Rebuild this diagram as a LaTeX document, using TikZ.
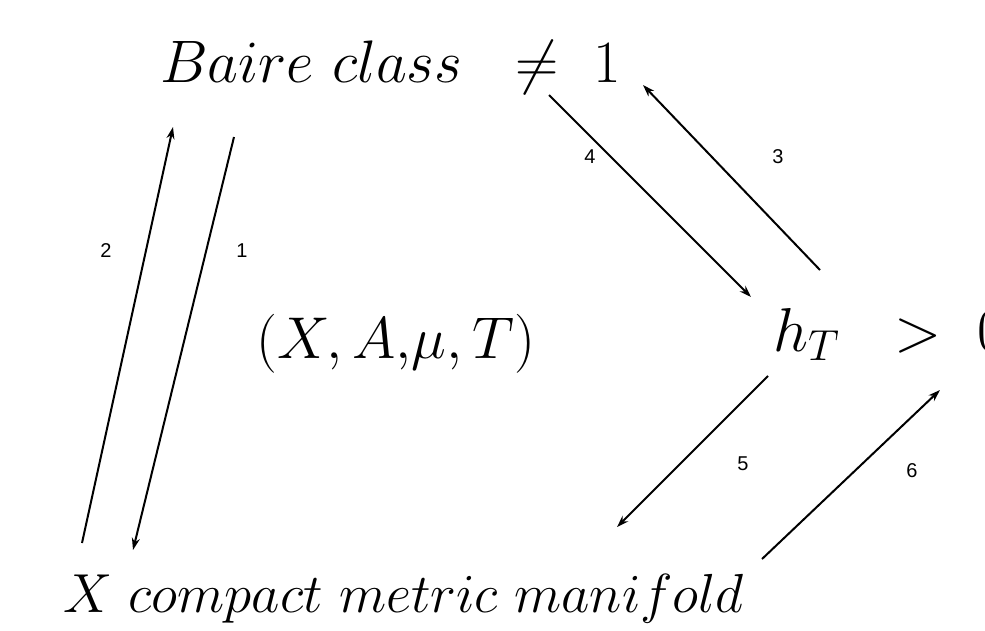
\RequirePackage{fix-cm}
\documentclass[tikz,border=0pt]{standalone}
\usepackage{fontspec}
\newfontfamily\labelfont{Liberation Sans}
\usetikzlibrary{arrows.meta}
\begin{document}
\begin{tikzpicture}[x=1pt,y=-1pt,
  bigtext/.style={inner sep=0pt,anchor=base west,font=\fontsize{55}{60}\selectfont},
  numlabel/.style={inner sep=0pt,font=\labelfont\fontsize{20}{24}\selectfont},
  conn/.style={line width=2pt,-{Stealth[length=12pt,width=8pt]}}]
\useasboundingbox (0,0) rectangle (985,630);
% main texts
\node[bigtext,font=\fontsize{60}{66}\selectfont] (baire) at (160,82) {$Baire\ class\ \ \neq\ 1$};
\node[bigtext,font=\fontsize{59}{64}\selectfont] (space) at (256,358) {$(X, A{,}\mu, T)$};
\node[bigtext,font=\fontsize{62}{68}\selectfont] (entropy) at (773,351) {$h_T\ \ >\ 0$};
\node[bigtext] (manifold) at (63,612) {$X\ compact\ metric\ manifold$};
% arrow end points
\coordinate (a1s) at (234,137); \coordinate (a1e) at (133,550);
\coordinate (a2s) at (82,543);  \coordinate (a2e) at (173,127);
\coordinate (a3s) at (820,270); \coordinate (a3e) at (643,85);
\coordinate (a4s) at (549,95);  \coordinate (a4e) at (751,297);
\coordinate (a5s) at (768,376); \coordinate (a5e) at (617,527);
\coordinate (a6s) at (762,559); \coordinate (a6e) at (940,390);
\draw[conn] (a1s) -- (a1e);
\draw[conn] (a2s) -- (a2e);
\draw[conn] (a3s) -- (a3e);
\draw[conn] (a4s) -- (a4e);
\draw[conn] (a5s) -- (a5e);
\draw[conn] (a6s) -- (a6e);
% labels
\node[numlabel] (l1) at (242,251) {1};
\node[numlabel] (l2) at (106,251) {2};
\node[numlabel] (l3) at (778,157) {3};
\node[numlabel] (l4) at (590,157) {4};
\node[numlabel] (l5) at (743,464) {5};
\node[numlabel] (l6) at (912,471) {6};
\end{tikzpicture}
\end{document}
